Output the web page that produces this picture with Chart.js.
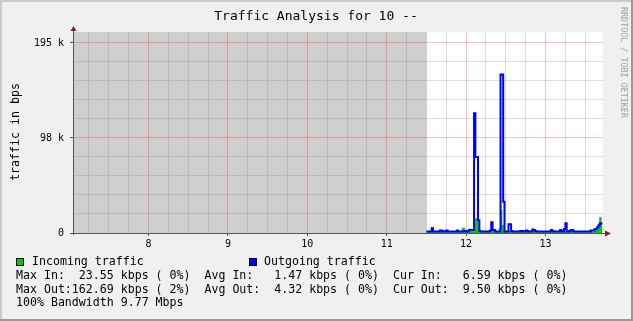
<!DOCTYPE html>
<html>
<head>
<meta charset="utf-8">
<script src="https://cdn.jsdelivr.net/npm/chart.js@4/dist/chart.umd.min.js"></script>
<style>
body { margin: 0; background: #f0f0f0; }
canvas { display: block; }
</style>
</head>
<body>
<canvas id="rrd" width="633" height="321"></canvas>
<script>
// one sample per minute, starting 11:30 (values in kbps)
const dataStart = 11.5;
const incoming = [
  0.8,0.8,1,1,1.5,1,0.8,0.8,1,0.8,
  1,1.2,1,2.5,1,0.8,0.8,1,0.8,0.8,
  1,0.8,1,1.2,1,0.8,1,5,5,1,
  0.8,1,1.5,4,1.5,2,3,15,15,4,
  1.5,1,0.8,1,0.8,1,1,1.2,1.5,3,
  2,1.5,1,1,1.5,5,23.5,8,3,1.5,
  1,1.5,2,2,1,0.8,1,1,0.8,1,
  1,1.5,2,1.5,1,1.5,1,0.8,1,1.5,
  5,2,1,0.8,1,0.8,1,1,0.8,1,
  0.8,1,1,0.8,1.5,1,0.8,1,1,0.8,
  1,2,1,1,1.5,2,1,0.8,1,1,
  1.5,1,0.8,1,1,0.8,1,1,0.8,1,
  1,0.8,1,1,1.5,1,1,2,3,5,
  8,16,6.6
];
const outgoing = [
  1.5,1.5,1.5,1.5,5,1.5,1.5,1.5,1.5,1.5,
  2.5,2.5,1.5,1.5,1.5,2.5,1.5,1.5,1.5,1.5,
  1.5,1.5,1.5,2.5,1.5,1.5,1.5,1.5,2,2,
  1.5,1.5,3,3,3,3,123,78,78,13,
  2,1.5,1.5,1.5,1.5,1.5,1.5,1.5,2.5,11,
  3,3,1.5,1.5,1.5,1.5,163,163,32,1.5,
  1.5,1.5,9,9,2,1.5,1.5,1.5,1.5,1.5,
  1.5,2,2,1.5,1.5,2.5,2,1.5,1.5,1.5,
  3,3,2,1.5,1.5,1.5,1.5,1.5,1.5,1.5,
  1.5,1.5,1.5,1.5,3,2,1.5,1.5,1.5,1.5,
  1.5,3,2,1.5,4,10,1.5,1.5,2,3,
  3,1.5,1.5,1.5,1.5,1.5,1.5,1.5,1.5,1.5,
  1.5,1.5,1.5,1.5,2.5,2.5,2.5,4,4,6,
  8,10,9.5
];
const hourLabels = [8, 9, 10, 11, 12, 13];
const yMajor = [0, 97.65625, 195.3125];
const yLabels = ['0', '98 k', '195 k'];
const titleText = 'Traffic Analysis for 10 --';
const seriesNames = ['Incoming traffic', 'Outgoing traffic'];
const statLines = [
  'Max In:  23.55 kbps ( 0%)  Avg In:   1.47 kbps ( 0%)  Cur In:   6.59 kbps ( 0%)',
  'Max Out:162.69 kbps ( 2%)  Avg Out:  4.32 kbps ( 0%)  Cur Out:  9.50 kbps ( 0%)',
  '100% Bandwidth 9.77 Mbps'
];

const xMin = 7.049, xMax = 13.724;
const yMax = 206.6;
const yStep = 19.53125;
const mono = '"DejaVu Sans Mono", monospace';

const xGrid = [];
for (let h = 7.25; h < xMax; h += 0.25) xGrid.push(h);
const yGrid = [];
for (let k = 0; k <= 10; k++) yGrid.push(k * yStep);

function toPoints(arr) {
  const pts = arr.map((v, i) => ({ x: dataStart + i / 60, y: v }));
  pts.push({ x: dataStart + arr.length / 60, y: arr[arr.length - 1] });
  return pts;
}

const minorGrid = 'rgba(128,128,128,0.27)';
const majorGrid = 'rgba(255,0,0,0.25)';

const rrdFrame = {
  id: 'rrdFrame',
  beforeDraw(chart) {
    const ctx = chart.ctx, a = chart.chartArea;
    const W = chart.width, H = chart.height;
    ctx.save();
    ctx.fillStyle = '#f0f0f0';
    ctx.fillRect(0, 0, W, H);
    ctx.fillStyle = '#cbcbcb';
    ctx.fillRect(0, 0, W, 2);
    ctx.fillRect(0, 0, 2, H);
    ctx.fillStyle = '#999999';
    ctx.fillRect(0, H - 2, W, 2);
    ctx.fillRect(W - 2, 0, 2, H);
    ctx.fillStyle = '#ffffff';
    ctx.fillRect(a.left, a.top, a.right - a.left, a.bottom - a.top);
    // unknown data before the first sample
    const xs = chart.scales.x;
    ctx.fillStyle = '#cfcfcf';
    ctx.fillRect(a.left, a.top, xs.getPixelForValue(dataStart) - a.left, a.bottom - a.top);
    ctx.restore();
  },
  afterDraw(chart) {
    const ctx = chart.ctx, a = chart.chartArea;
    ctx.save();
    // axes
    ctx.strokeStyle = '#555555';
    ctx.lineWidth = 1;
    ctx.beginPath();
    ctx.moveTo(a.left + 0.5, a.bottom + 2);
    ctx.lineTo(a.left + 0.5, a.top - 4);
    ctx.moveTo(a.left - 2, a.bottom + 0.5);
    ctx.lineTo(a.right + 4, a.bottom + 0.5);
    ctx.stroke();
    ctx.fillStyle = '#8b1c1c';
    ctx.beginPath();
    ctx.moveTo(a.left + 0.5, a.top - 6);
    ctx.lineTo(a.left - 2.5, a.top - 1);
    ctx.lineTo(a.left + 3.5, a.top - 1);
    ctx.closePath();
    ctx.fill();
    ctx.beginPath();
    ctx.moveTo(a.right + 8, a.bottom + 0.5);
    ctx.lineTo(a.right + 2, a.bottom - 2.5);
    ctx.lineTo(a.right + 2, a.bottom + 3.5);
    ctx.closePath();
    ctx.fill();

    // title
    ctx.fillStyle = '#000';
    ctx.textBaseline = 'middle';
    ctx.textAlign = 'center';
    ctx.font = '13px ' + mono;
    ctx.fillText(titleText, 316, 17);

    // vertical axis title
    ctx.font = '11.6px ' + mono;
    ctx.save();
    ctx.translate(16, 132);
    ctx.rotate(-Math.PI / 2);
    ctx.fillText('traffic in bps', 0, 0);
    ctx.restore();

    // watermark
    ctx.save();
    ctx.fillStyle = '#a0a0a0';
    ctx.font = '8.4px ' + mono;
    ctx.translate(623, 7);
    ctx.rotate(Math.PI / 2);
    ctx.textAlign = 'left';
    ctx.fillText('RRDTOOL / TOBI OETIKER', 0, 0);
    ctx.restore();

    // legend
    ctx.textAlign = 'left';
    ctx.font = '11.6px ' + mono;
    const boxes = [[16, 32], [249, 264]];
    const colors = ['#00cc00', '#0000ff'];
    boxes.forEach((b, i) => {
      ctx.fillStyle = colors[i];
      ctx.fillRect(b[0], 258, 8, 8);
      ctx.strokeStyle = '#000';
      ctx.strokeRect(b[0] + 0.5, 258.5, 7, 7);
      ctx.fillStyle = '#000';
      ctx.fillText(seriesNames[i], b[1], 262);
    });
    statLines.forEach((s, i) => ctx.fillText(s, 16, 276 + i * 13.7));
    ctx.restore();
  }
};

new Chart(document.getElementById('rrd'), {
  type: 'line',
  data: {
    datasets: [
      {
        label: seriesNames[1],
        data: toPoints(outgoing),
        stepped: 'before',
        borderColor: '#0000ff',
        borderWidth: 2,
        fill: false,
        pointRadius: 0
      },
      {
        label: seriesNames[0],
        data: toPoints(incoming),
        stepped: 'before',
        borderColor: '#00cc00',
        backgroundColor: '#00cc00',
        borderWidth: 1,
        fill: 'origin',
        pointRadius: 0
      }
    ]
  },
  options: {
    responsive: false,
    animation: false,
    devicePixelRatio: 1,
    layout: { padding: { top: 32, right: 30, bottom: 66, left: 0 } },
    plugins: { legend: { display: false }, tooltip: { enabled: false } },
    scales: {
      x: {
        type: 'linear',
        min: xMin,
        max: xMax,
        afterBuildTicks: s => { s.ticks = xGrid.map(v => ({ value: v })); },
        afterFit: s => { s.height = 22; s.paddingLeft = 0; s.paddingRight = 0; },
        border: { display: false },
        grid: {
          color: c => Number.isInteger(c.tick.value) ? majorGrid : minorGrid,
          tickColor: c => Number.isInteger(c.tick.value) ? '#555' : 'rgba(0,0,0,0)',
          tickLength: 3
        },
        ticks: {
          autoSkip: false,
          maxRotation: 0,
          padding: 2,
          color: '#000',
          font: { family: mono, size: 10 },
          callback: v => hourLabels.includes(v) ? String(v) : ''
        }
      },
      y: {
        min: 0,
        max: yMax,
        afterBuildTicks: s => { s.ticks = yGrid.map(v => ({ value: v })); },
        afterFit: s => { s.width = 73; s.paddingTop = 0; s.paddingBottom = 0; },
        border: { display: false },
        grid: {
          color: c => yMajor.includes(c.tick.value) ? majorGrid : minorGrid,
          tickColor: c => yMajor.includes(c.tick.value) ? '#555' : 'rgba(0,0,0,0)',
          tickLength: 3
        },
        ticks: {
          padding: 6,
          color: '#000',
          font: { family: mono, size: 10 },
          callback: v => { const i = yMajor.indexOf(v); return i >= 0 ? yLabels[i] : ''; }
        }
      }
    }
  },
  plugins: [rrdFrame]
});
</script>
</body>
</html>
